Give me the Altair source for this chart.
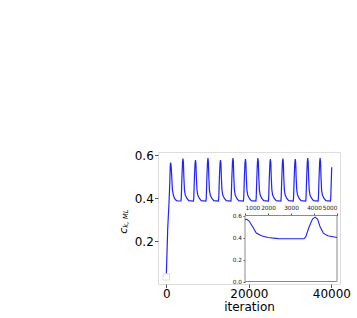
import altair as alt
import pandas as pd

# ---- data (iteration, c_k,ML) ----
it_rise = [0, 350, 650, 850, 950, 1000, 1080, 1180, 1340, 1490, 1710, 2000, 2450, 3000]
c_rise = [0.035, 0.26, 0.375, 0.47, 0.54, 0.562, 0.566, 0.55, 0.495, 0.44, 0.416, 0.40, 0.39, 0.388]

it_c2 = [3560, 3640, 3785, 3935, 4050, 4155, 4260, 4405, 4600, 5000, 5450]
c_c2 = [0.388, 0.405, 0.495, 0.567, 0.585, 0.567, 0.50, 0.44, 0.416, 0.40, 0.39]

it_c3 = [6590, 6670, 6815, 6965, 7080, 7185, 7290, 7435, 7630, 8030, 8480]
c_c3 = [0.388, 0.405, 0.495, 0.562, 0.578, 0.562, 0.50, 0.44, 0.416, 0.40, 0.39]

it_c4 = [9610, 9690, 9835, 9985, 10100, 10205, 10310, 10455, 10650, 11050, 11500]
c_c4 = [0.388, 0.405, 0.495, 0.569, 0.588, 0.569, 0.50, 0.44, 0.416, 0.40, 0.39]

it_c5 = [12640, 12720, 12865, 13015, 13130, 13235, 13340, 13485, 13680, 14080, 14530]
c_c5 = [0.388, 0.405, 0.495, 0.562, 0.578, 0.562, 0.50, 0.44, 0.416, 0.40, 0.39]

it_c6 = [15660, 15740, 15885, 16035, 16150, 16255, 16360, 16505, 16700, 17100, 17550]
c_c6 = [0.388, 0.405, 0.495, 0.569, 0.588, 0.569, 0.50, 0.44, 0.416, 0.40, 0.39]

it_c7 = [18690, 18770, 18915, 19065, 19180, 19285, 19390, 19535, 19730, 20130, 20580]
c_c7 = [0.388, 0.405, 0.495, 0.566, 0.583, 0.566, 0.50, 0.44, 0.416, 0.40, 0.39]

it_c8 = [21710, 21790, 21935, 22085, 22200, 22305, 22410, 22555, 22750, 23150, 23600]
c_c8 = [0.388, 0.405, 0.495, 0.569, 0.588, 0.569, 0.50, 0.44, 0.416, 0.40, 0.39]

it_c9 = [24730, 24810, 24955, 25105, 25220, 25325, 25430, 25575, 25770, 26170, 26620]
c_c9 = [0.388, 0.405, 0.495, 0.566, 0.583, 0.566, 0.50, 0.44, 0.416, 0.40, 0.39]

it_c10 = [27760, 27840, 27985, 28135, 28250, 28355, 28460, 28605, 28800, 29200, 29650]
c_c10 = [0.388, 0.405, 0.495, 0.567, 0.585, 0.567, 0.50, 0.44, 0.416, 0.40, 0.39]

it_c11 = [30760, 30840, 30985, 31135, 31250, 31355, 31460, 31605, 31800, 32200, 32650]
c_c11 = [0.388, 0.405, 0.495, 0.566, 0.583, 0.566, 0.50, 0.44, 0.416, 0.40, 0.39]

it_c12 = [33780, 33860, 34005, 34155, 34270, 34375, 34480, 34625, 34820, 35220, 35670]
c_c12 = [0.388, 0.405, 0.495, 0.569, 0.588, 0.569, 0.50, 0.44, 0.416, 0.40, 0.39]

it_c13 = [36780, 36860, 37005, 37155, 37270, 37375, 37480, 37625, 37820, 38220, 38670]
c_c13 = [0.388, 0.405, 0.495, 0.569, 0.588, 0.569, 0.50, 0.44, 0.416, 0.40, 0.39]

it_end = [39770, 39850, 39995, 40080]
c_end = [0.388, 0.405, 0.495, 0.545]

x_ticks = [0, 20000, 40000]
y_ticks = [0.2, 0.4, 0.6]
inset_x_ticks = [1000, 2000, 3000, 4000, 5000]
inset_y_ticks = [0.0, 0.2, 0.4, 0.6]
inset_x_domain = [1000, 5000]
inset_y_domain = [0.0, 0.6]

iterations = (it_rise + it_c2 + it_c3 + it_c4 + it_c5 + it_c6 + it_c7 + it_c8
              + it_c9 + it_c10 + it_c11 + it_c12 + it_c13 + it_end)
values = (c_rise + c_c2 + c_c3 + c_c4 + c_c5 + c_c6 + c_c7 + c_c8
          + c_c9 + c_c10 + c_c11 + c_c12 + c_c13 + c_end)

df = pd.DataFrame({"iteration": iterations, "c": values})
start = pd.DataFrame({"iteration": [iterations[0]], "c": [values[0]]})

FONT = "DejaVu Sans"
LINE = "#2222ff"
GREY = "#8a8a8a"

# ---- main panel ----
main_x = alt.Scale(domain=[-2004, 42084], nice=False, zero=False)
main_y = alt.Scale(domain=[0.002, 0.616], nice=False, zero=False)
main_xaxis = alt.Axis(values=x_ticks, format="d", title="iteration", grid=False, domain=False,
                      tickSize=3.5, tickColor="#555", labelPadding=1.2, labelFontSize=12,
                      labelFont=FONT, labelColor="black", titleFont=FONT, titleFontSize=12,
                      titleFontWeight="normal", titleColor="black", titlePadding=1.5)
main_yaxis = alt.Axis(values=y_ticks, format=".1f", title=None, grid=False, domain=False,
                      tickSize=3.5, tickColor="#555", labelPadding=1.2, labelFontSize=12,
                      labelFont=FONT, labelColor="black")

main_line = alt.Chart(df).mark_line(color=LINE, strokeWidth=1.2).encode(
    x=alt.X("iteration:Q", scale=main_x, axis=main_xaxis),
    y=alt.Y("c:Q", scale=main_y, axis=main_yaxis),
)
marker = alt.Chart(start).mark_point(shape="square", size=40, filled=True, fill="white",
                                     stroke="#dcdcdc", strokeWidth=1, opacity=1).encode(
    x=alt.X("iteration:Q", scale=main_x, axis=main_xaxis),
    y=alt.Y("c:Q", scale=main_y, axis=main_yaxis),
)
main = alt.layer(main_line, marker)

# ---- inset panel ----
ix = alt.Scale(domain=inset_x_domain, range=[87, 179], nice=False, zero=False)
iy = alt.Scale(domain=inset_y_domain, range=[129.5, 63.5], nice=False, zero=False)
ixaxis = alt.Axis(values=inset_x_ticks, format="d", orient="top", offset=-63.5, title=None,
                  grid=False, domain=False, tickSize=2.5, tickColor="#555", labelPadding=3,
                  labelFontSize=5.8, labelFont=FONT, labelColor="#222")
iyaxis = alt.Axis(values=inset_y_ticks, format=".1f", orient="left", offset=-87, title=None,
                  grid=False, domain=False, tickSize=2, tickColor="#555", labelPadding=1.5,
                  labelFontSize=5.8, labelFont=FONT, labelColor="#222")

frame_df = pd.DataFrame({"x1": [inset_x_domain[0]], "x2": [inset_x_domain[1]],
                         "y1": [inset_y_domain[0]], "y2": [inset_y_domain[1]]})
inset_frame = alt.Chart(frame_df).mark_rect(fill="white", stroke=GREY, strokeWidth=1).encode(
    x=alt.X("x1:Q", scale=ix, axis=ixaxis), x2="x2:Q",
    y=alt.Y("y1:Q", scale=iy, axis=iyaxis), y2="y2:Q",
)
inset_line = alt.Chart(df).transform_filter(
    "datum.iteration >= 1000 && datum.iteration <= 5000"
).mark_line(color=LINE, strokeWidth=1.1).encode(
    x=alt.X("iteration:Q", scale=ix, axis=ixaxis),
    y=alt.Y("c:Q", scale=iy, axis=iyaxis),
)
inset = alt.layer(inset_frame, inset_line)

# ---- y title c_{k,ML} ----
lab = pd.DataFrame({"t": ["c"]})
ytitle_c = alt.Chart(lab).mark_text(text="c", font=FONT, fontStyle="italic", fontSize=11,
                                    angle=270, align="center", baseline="alphabetic",
                                    color="black").encode(
    x=alt.value(-31.3), y=alt.value(78.6))
ytitle_sub = alt.Chart(lab).mark_text(text="k, ML", font=FONT, fontStyle="italic", fontSize=7,
                                      angle=270, align="center", baseline="alphabetic",
                                      color="black").encode(
    x=alt.value(-29.6), y=alt.value(66.6))

chart = alt.layer(main, inset, ytitle_c, ytitle_sub).resolve_scale(
    x="independent", y="independent"
).resolve_axis(x="independent", y="independent").properties(
    width=182, height=132,
    autosize=alt.AutoSizeParams(type="none"),
    padding={"left": 158, "top": 152, "right": 17, "bottom": 34},
).configure_view(stroke=GREY, strokeWidth=1).configure(background="white")

chart.save("out.html", embed_options={"renderer": "svg", "actions": False})
